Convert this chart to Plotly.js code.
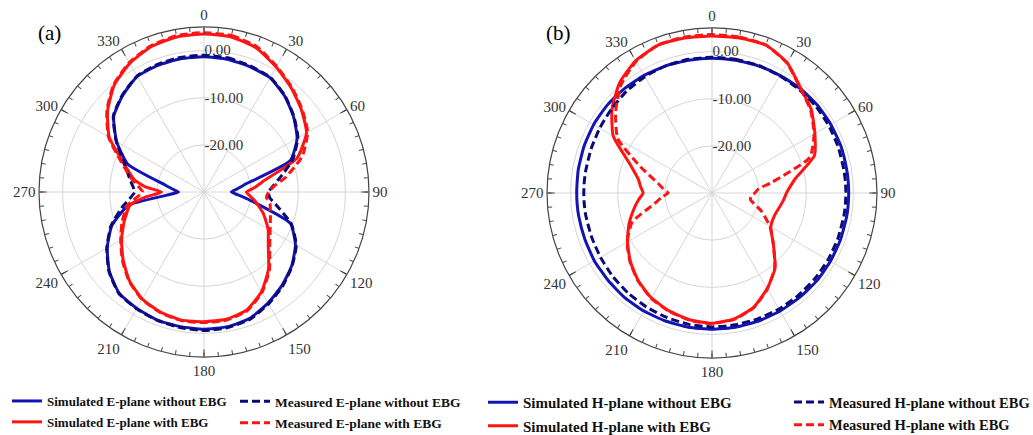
<!DOCTYPE html>
<html>
<head>
<meta charset="utf-8">
<script src="https://cdn.plot.ly/plotly-3.0.1.min.js"></script>
<style>html,body{margin:0;padding:0;background:#fff;}#chart{width:1033px;height:435px;}</style>
</head>
<body>
<div id="chart"></div>
<script>
// Angles (degrees, clockwise from top)
const theta = [0,10,20,30,40,50,60,70,80,85,90,95,100,110,120,130,140,150,160,170,180,190,200,210,220,230,240,250,260,265,270,275,280,290,300,310,320,330,340,350,360];

// (a) E-plane, dB
const simEwithout  = [-1.3,-1.4,-1.7,-2.0,-3.4,-5.2,-7.2,-10.5,-21.4,-23.0,-24.2,-22.7,-20.2,-10.5,-7.6,-5.7,-4.2,-2.8,-1.5,-1.0,-0.9,-1.0,-1.1,-1.5,-2.0,-3.8,-6.3,-9.2,-13.7,-21.9,-24.6,-23.4,-21.7,-12.8,-8.6,-5.0,-3.2,-1.7,-1.4,-1.3,-1.3];
const measEwithout = [-1.0,-1.1,-1.5,-1.9,-3.3,-5.1,-7.0,-10.0,-13.8,-15.3,-16.3,-16.0,-14.5,-10.3,-7.4,-5.6,-4.0,-2.6,-1.3,-0.8,-0.6,-0.8,-1.0,-1.4,-1.9,-3.7,-6.2,-9.0,-12.5,-14.2,-15.3,-14.8,-14.0,-12.0,-8.5,-4.9,-3.1,-1.6,-1.2,-1.0,-1.0];
const simEwith     = [3.5,3.4,2.5,0.6,-1.2,-3.0,-4.9,-9.0,-17.4,-19.2,-21.0,-20.2,-19.0,-16.6,-14.3,-12.2,-8.7,-5.6,-3.4,-2.6,-2.5,-2.4,-2.9,-3.8,-5.4,-7.6,-9.8,-12.0,-14.1,-17.5,-21.0,-17.5,-15.0,-11.8,-6.8,-3.3,-0.4,1.5,2.8,3.4,3.5];
const measEwith    = [3.8,3.7,2.8,0.8,-1.0,-2.8,-4.6,-7.8,-12.5,-15.0,-16.3,-16.7,-15.8,-15.0,-13.8,-11.8,-8.4,-5.4,-3.2,-2.4,-2.3,-2.3,-2.8,-3.7,-5.3,-7.4,-9.6,-11.5,-13.5,-15.5,-17.0,-16.0,-14.5,-11.3,-6.6,-3.1,-0.2,1.7,3.0,3.7,3.8];

// (b) H-plane, dB
const simHwithout  = [-1.4,-1.4,-1.3,-1.2,-1.0,-0.9,-0.9,-0.9,-1.0,-1.0,-1.0,-1.0,-1.0,-1.0,-1.0,-1.0,-1.1,-1.1,-1.1,-1.1,-1.1,-1.1,-1.1,-1.1,-1.1,-1.2,-1.2,-1.3,-1.3,-1.3,-1.3,-1.3,-1.2,-1.1,-1.0,-1.0,-1.1,-1.2,-1.3,-1.4,-1.4];
const measHwithout = [-1.2,-1.2,-1.2,-1.3,-1.3,-1.3,-1.4,-1.5,-1.6,-1.6,-1.6,-1.6,-1.6,-1.6,-1.6,-1.6,-1.6,-1.6,-1.6,-1.6,-1.6,-1.7,-1.9,-2.1,-2.3,-2.5,-2.7,-2.8,-2.8,-2.8,-2.8,-2.8,-2.8,-2.7,-2.5,-2.2,-1.8,-1.5,-1.3,-1.2,-1.2];
const simHwith     = [3.3,3.4,3.4,1.9,-0.8,-2.5,-4.8,-6.9,-12.0,-13.3,-14.2,-14.7,-15.2,-15.9,-15.6,-13.0,-9.2,-6.6,-4.2,-2.9,-2.35,-2.7,-3.4,-4.3,-5.7,-7.4,-9.3,-11.3,-13.4,-14.4,-15.4,-14.8,-14.2,-11.3,-5.8,-2.3,0.5,2.4,3.4,3.4,3.3];
const measHwith    = [3.6,3.6,3.4,1.8,-0.9,-2.7,-5.0,-7.9,-17.2,-20.1,-20.9,-21.7,-21.7,-18.9,-15.8,-13.0,-9.3,-6.5,-4.1,-2.8,-2.3,-2.6,-3.3,-4.2,-5.6,-7.3,-9.2,-12.0,-17.8,-19.2,-20.7,-19.6,-18.4,-13.9,-6.9,-3.3,0.0,2.2,3.4,3.6,3.6];

// Axis ticks / labels
const angTicks = [0,30,60,90,120,150,180,210,240,270,300,330];
const angText = ['0','30','60','90','120','150','180','210','240','270','300','330'];
const minorTicks = [];
for (let a = 0; a < 360; a += 5) minorTicks.push(a);
const radTicks = [-20,-10,0];
const radText = ['-20.00','-10.00','0.00'];

const names = {
  simEwithout: 'Simulated E-plane without EBG',
  simEwith: 'Simulated E-plane with EBG',
  measEwithout: 'Measured E-plane without EBG',
  measEwith: 'Measured E-plane with EBG',
  simHwithout: 'Simulated H-plane without EBG',
  simHwith: 'Simulated H-plane with EBG',
  measHwithout: 'Measured H-plane without EBG',
  measHwith: 'Measured H-plane with EBG'
};

const BLUE = '#1414b4', NAVY = '#0a0a78', RED = '#ff1414';
const DASH = '8px,4px';

function tr(r, name, sub, color, dash, leg) {
  return {
    type: 'scatterpolar', mode: 'lines', r: r, theta: theta, subplot: sub, name: name,
    line: {color: color, width: 3, dash: dash, shape: 'spline', smoothing: 0.5},
    legend: leg, legendgroup: name, hoverinfo: 'skip'
  };
}

const data = [
  tr(simEwithout, names.simEwithout, 'polar', BLUE, 'solid', 'legend'),
  tr(simEwith, names.simEwith, 'polar', RED, 'solid', 'legend'),
  tr(measEwithout, names.measEwithout, 'polar', NAVY, DASH, 'legend2'),
  tr(measEwith, names.measEwith, 'polar', RED, DASH, 'legend2'),
  tr(simHwithout, names.simHwithout, 'polar2', BLUE, 'solid', 'legend3'),
  tr(simHwith, names.simHwith, 'polar2', RED, 'solid', 'legend3'),
  tr(measHwithout, names.measHwithout, 'polar2', NAVY, DASH, 'legend4'),
  tr(measHwith, names.measHwith, 'polar2', RED, DASH, 'legend4'),
  {type:'scatterpolar', mode:'lines', r:[], theta:[], subplot:'polar3', showlegend:false, hoverinfo:'skip'},
  {type:'scatterpolar', mode:'lines', r:[], theta:[], subplot:'polar4', showlegend:false, hoverinfo:'skip'}
];

const W = 1033, H = 435, R = 165;
function dom(cx, cy) {
  return {x: [(cx - R) / W, (cx + R) / W], y: [(H - cy - R) / H, (H - cy + R) / H]};
}
const FONT = 'Liberation Serif, Times New Roman, serif';

function mainPolar(d) {
  return {
    domain: d, bgcolor: 'rgba(0,0,0,0)',
    angularaxis: {
      rotation: 90, direction: 'clockwise', tickmode: 'array', tickvals: angTicks, ticktext: angText,
      ticks: 'inside', ticklen: 7, tickwidth: 1, tickcolor: '#444',
      showline: true, linecolor: '#444', linewidth: 1.2,
      showgrid: true, gridcolor: '#d6d6d6', gridwidth: 1,
      tickfont: {family: FONT, size: 15, color: '#333'}
    },
    radialaxis: {
      range: [-30, 5], angle: 90, tickmode: 'array', tickvals: radTicks, ticktext: radText,
      showline: false, ticks: '', showgrid: true, gridcolor: '#d6d6d6', gridwidth: 1,
      tickfont: {family: FONT, size: 15, color: '#333'}, tickangle: 90
    }
  };
}
function tickPolar(d) {
  return {
    domain: d, bgcolor: 'rgba(0,0,0,0)',
    angularaxis: {
      rotation: 90, direction: 'clockwise', tickmode: 'array', tickvals: minorTicks,
      ticks: 'inside', ticklen: 4, tickwidth: 1, tickcolor: '#444',
      showticklabels: false, showline: false, showgrid: false
    },
    radialaxis: {visible: false, range: [-30, 5]}
  };
}

const dA = dom(204, 192), dB = dom(712, 193);

function leg(xpx, size) {
  return {
    x: xpx / W, xanchor: 'left', y: (H - 386) / H, yanchor: 'top',
    orientation: 'v', bgcolor: 'rgba(0,0,0,0)', borderwidth: 0,
    font: {family: FONT, size: size, color: '#111', weight: 'bold'},
    traceorder: 'grouped', tracegroupgap: 1
  };
}

const layout = {
  width: W, height: H, margin: {l: 0, r: 0, t: 0, b: 0, autoexpand: false},
  paper_bgcolor: '#fff', showlegend: true,
  polar: mainPolar(dA), polar2: mainPolar(dB),
  polar3: tickPolar(dA), polar4: tickPolar(dB),
  legend: leg(7, 13), legend2: leg(235, 13.5), legend3: leg(483, 15), legend4: leg(789, 14.5),
  annotations: [
    {text: '(a)', x: 49 / W, y: (H - 33) / H, xref: 'paper', yref: 'paper', showarrow: false,
     xanchor: 'center', yanchor: 'middle', font: {family: FONT, size: 21, color: '#000'}},
    {text: '(b)', x: 558 / W, y: (H - 33) / H, xref: 'paper', yref: 'paper', showarrow: false,
     xanchor: 'center', yanchor: 'middle', font: {family: FONT, size: 21, color: '#000'}}
  ]
};

Plotly.newPlot('chart', data, layout, {staticPlot: true, displayModeBar: false});
</script>
</body>
</html>
